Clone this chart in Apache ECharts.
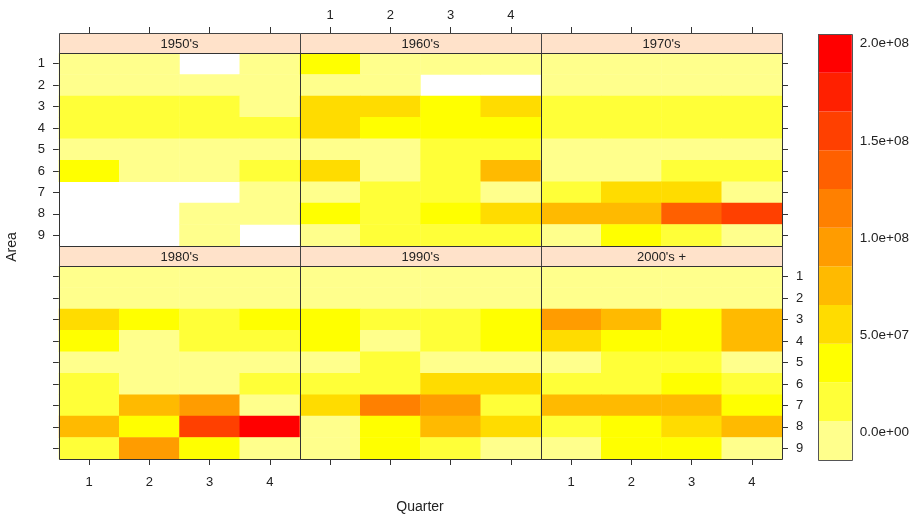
<!DOCTYPE html>
<html>
<head>
<meta charset="utf-8">
<script src="https://cdn.jsdelivr.net/npm/echarts@6/dist/echarts.min.js"></script>
<style>
  html, body { margin: 0; padding: 0; background: #fff; }
  #chart { width: 912px; height: 515px; }
</style>
</head>
<body>
<div id="chart"></div>
<script>
// data: rows = Area 1..9, columns = Quarter 1..4, null = no data
const quarters = ['1', '2', '3', '4']
const areas = ['1', '2', '3', '4', '5', '6', '7', '8', '9']
const decades = ["1950's", "1960's", "1970's", "1980's", "1990's", "2000's +"]

const v1950s = [
  [3e6, 2e6, null, 2e6],
  [2e6, 3e6, 2e6, 1e6],
  [18e6, 17e6, 16e6, 2e6],
  [16e6, 18e6, 17e6, 15e6],
  [2e6, 2e6, 3e6, 2e6],
  [28e6, 3e6, 2e6, 19e6],
  [null, null, null, 2e6],
  [null, null, 1e6, 2e6],
  [null, null, 2e6, null],
]
const v1960s = [
  [30e6, 3e6, 3e6, 2e6],
  [2e6, 1e6, null, null],
  [55e6, 52e6, 36e6, 54e6],
  [57e6, 34e6, 33e6, 35e6],
  [2e6, 1e6, 18e6, 16e6],
  [53e6, 1e6, 22e6, 72e6],
  [3e6, 20e6, 19e6, 2e6],
  [36e6, 22e6, 32e6, 52e6],
  [2e6, 18e6, 19e6, 17e6],
]
const v1970s = [
  [2e6, 2e6, 2e6, 2e6],
  [2e6, 2e6, 2e6, 2e6],
  [18e6, 17e6, 18e6, 17e6],
  [17e6, 18e6, 17e6, 18e6],
  [2e6, 2e6, 1e6, 1e6],
  [2e6, 1e6, 16e6, 17e6],
  [20e6, 56e6, 55e6, 3e6],
  [78e6, 77e6, 136e6, 158e6],
  [2e6, 36e6, 20e6, 2e6],
]
const v1980s = [
  [2e6, 2e6, 2e6, 2e6],
  [2e6, 2e6, 2e6, 2e6],
  [60e6, 30e6, 20e6, 28e6],
  [36e6, 1e6, 20e6, 21e6],
  [2e6, 1e6, 1e6, 2e6],
  [20e6, 1e6, 1e6, 21e6],
  [20e6, 74e6, 92e6, 3e6],
  [70e6, 36e6, 157e6, 198e6],
  [19e6, 93e6, 35e6, 2e6],
]
const v1990s = [
  [2e6, 2e6, 2e6, 2e6],
  [2e6, 2e6, 2e6, 2e6],
  [34e6, 20e6, 19e6, 35e6],
  [35e6, 1e6, 20e6, 36e6],
  [2e6, 18e6, 2e6, 2e6],
  [19e6, 20e6, 56e6, 57e6],
  [58e6, 116e6, 96e6, 19e6],
  [2e6, 35e6, 76e6, 58e6],
  [2e6, 34e6, 18e6, 1e6],
]
const v2000s = [
  [2e6, 2e6, 2e6, 2e6],
  [2e6, 2e6, 2e6, 2e6],
  [96e6, 78e6, 34e6, 80e6],
  [58e6, 30e6, 28e6, 78e6],
  [2e6, 20e6, 20e6, 2e6],
  [20e6, 21e6, 34e6, 19e6],
  [80e6, 79e6, 78e6, 34e6],
  [22e6, 35e6, 58e6, 78e6],
  [2e6, 34e6, 33e6, 2e6],
]
const decadeValues = [v1950s, v1960s, v1970s, v1980s, v1990s, v2000s]

// colour key
const breaks = [-1.4e7, 0.59e7, 2.58e7, 4.57e7, 6.56e7, 8.55e7, 10.54e7, 12.53e7, 14.52e7, 16.51e7, 18.5e7, 20.49e7]
const bandColors = [
  '#FFFF8C', '#FFFF38', '#FFFF00', '#FFDC00', '#FFBA00', '#FF9C00',
  '#FF8000', '#FF6000', '#FF4000', '#FF2000', '#FF0000',
]
const keyTicks = [0, 5e7, 1e8, 1.5e8, 2e8]

const FONT = 'Liberation Sans, Arial, sans-serif'
const TXT = '#222'
const colLeft = [59, 300, 541]
const panelW = 241
const rowTop = [53, 266]
const panelH = 193
const stripH = 20

function sci(v) {
  const [m, e] = v.toExponential(1).split('e')
  const sign = e[0] === '-' ? '-' : '+'
  const d = e.replace(/[+-]/, '').padStart(2, '0')
  return `${m}e${sign}${d}`
}

const chart = echarts.init(document.getElementById('chart'))

const grids = []
const xAxes = []
const yAxes = []
const series = []
const graphics = []

decades.forEach((name, i) => {
  const row = i < 3 ? 0 : 1
  const col = i % 3
  grids.push({
    left: colLeft[col], top: rowTop[row], width: panelW, height: panelH,
    show: true, borderWidth: 0, backgroundColor: '#fff',
  })
  const xLabels = row === 0 ? col === 1 : col !== 1
  xAxes.push({
    gridIndex: i, type: 'category', data: quarters,
    position: row === 0 ? 'top' : 'bottom',
    offset: row === 0 ? stripH : 0,
    axisLine: { show: false },
    axisTick: { show: true, alignWithLabel: true, length: 6, lineStyle: { color: '#333' } },
    axisLabel: {
      show: xLabels, color: TXT, fontSize: 13, fontFamily: FONT,
      margin: row === 0 ? 11 : 17,
    },
    splitLine: { show: false },
  })
  const yShow = col !== 1
  const yLabels = row === 0 ? col === 0 : col === 2
  yAxes.push({
    gridIndex: i, type: 'category', data: areas, inverse: true,
    show: yShow,
    position: col === 2 ? 'right' : 'left',
    axisLine: { show: false },
    axisTick: { show: true, alignWithLabel: true, length: 6, lineStyle: { color: '#333' } },
    axisLabel: { show: yLabels, color: TXT, fontSize: 13, fontFamily: FONT, margin: 14 },
    splitLine: { show: false },
  })
  const data = []
  decadeValues[i].forEach((rowVals, a) => {
    rowVals.forEach((v, q) => {
      if (v !== null) data.push([q, a, v])
    })
  })
  series.push({
    type: 'heatmap', xAxisIndex: i, yAxisIndex: i, data,
    itemStyle: { borderWidth: 0 },
    emphasis: { disabled: true },
  })
  // strip
  graphics.push({
    type: 'rect', z: 10,
    shape: { x: colLeft[col] + 0.5, y: rowTop[row] - stripH + 0.5, width: panelW, height: stripH },
    style: { fill: '#FFE2CA', stroke: '#444', lineWidth: 1 },
  })
  graphics.push({
    type: 'text', z: 11,
    x: colLeft[col] + panelW / 2, y: rowTop[row] - stripH / 2 + 1,
    style: {
      text: name, fill: TXT, font: `13px ${FONT}`,
      textAlign: 'center', textVerticalAlign: 'middle',
    },
  })
  // panel outline on top of the cells
  graphics.push({
    type: 'rect', z: 12,
    shape: { x: colLeft[col] + 0.5, y: rowTop[row] + 0.5, width: panelW, height: panelH },
    style: { fill: null, stroke: '#333', lineWidth: 1 },
  })
})

// colour key as its own grid
const keyIdx = decades.length
grids.push({
  left: 818, top: 34, width: 34, height: 426,
  show: true, borderWidth: 0,
})
xAxes.push({ gridIndex: keyIdx, type: 'value', min: 0, max: 1, show: false })
yAxes.push({
  gridIndex: keyIdx, type: 'value', min: breaks[0], max: breaks[breaks.length - 1],
  position: 'right',
  axisLine: { show: false },
  axisTick: { show: true, length: 5, customValues: keyTicks, lineStyle: { color: '#333' } },
  axisLabel: {
    show: true, customValues: keyTicks, color: TXT, fontSize: 13.5, fontFamily: FONT,
    margin: 8, formatter: (v) => sci(v),
  },
  splitLine: { show: false },
})
series.push({
  type: 'custom', xAxisIndex: keyIdx, yAxisIndex: keyIdx,
  data: bandColors.map((c, k) => [0, breaks[k], breaks[k + 1], k]),
  encode: { x: 0, y: [1, 2] },
  renderItem: (params, api) => {
    const top = api.coord([0, api.value(2)])
    const bot = api.coord([0, api.value(1)])
    return {
      type: 'rect',
      shape: { x: params.coordSys.x, y: top[1], width: params.coordSys.width, height: bot[1] - top[1] },
      style: { fill: bandColors[api.value(3)] },
    }
  },
  silent: true,
})
graphics.push({
  type: 'rect', z: 12,
  shape: { x: 818.5, y: 34.5, width: 34, height: 426 },
  style: { fill: null, stroke: '#555', lineWidth: 1 },
})

graphics.push({
  type: 'text', x: 12, y: 247, rotation: Math.PI / 2,
  style: { text: 'Area', fill: TXT, font: `14px ${FONT}`, textAlign: 'center', textVerticalAlign: 'middle' },
})
graphics.push({
  type: 'text', x: 420, y: 507,
  style: { text: 'Quarter', fill: TXT, font: `14px ${FONT}`, textAlign: 'center', textVerticalAlign: 'middle' },
})

chart.setOption({
  animation: false,
  backgroundColor: '#fff',
  grid: grids,
  xAxis: xAxes,
  yAxis: yAxes,
  visualMap: {
    type: 'piecewise', show: false,
    seriesIndex: [0, 1, 2, 3, 4, 5],
    pieces: bandColors.map((c, k) => ({ gte: breaks[k], lt: breaks[k + 1], color: c })),
  },
  series,
  graphic: graphics,
})
</script>
</body>
</html>
